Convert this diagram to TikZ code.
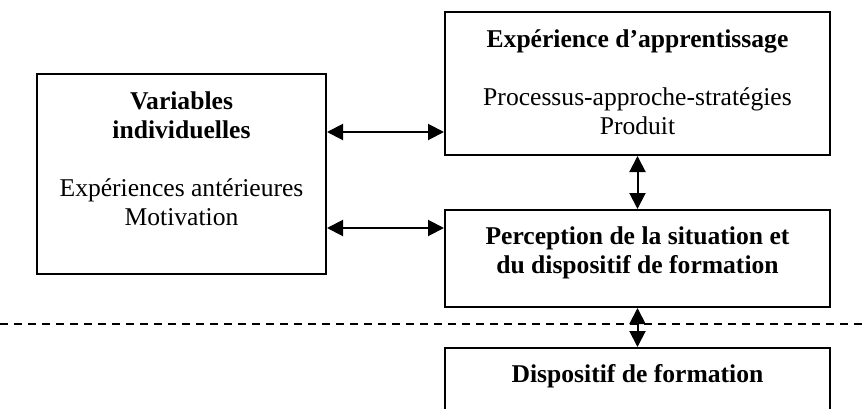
\documentclass[tikz,border=0pt]{standalone}
\usepackage{fontspec}
\setmainfont{Liberation Serif}
\usetikzlibrary{arrows.meta, positioning, calc}

\tikzset{
  box/.style={draw, line width=1pt, inner sep=0pt, minimum width=192.5pt},
  txt/.style={align=center, inner sep=0pt, anchor=base,
    font=\fontsize{12.8}{14.5}\selectfont},
  link/.style={line width=1pt, {Triangle[length=8pt,width=8pt]}-{Triangle[length=8pt,width=8pt]}},
  sep line/.style={line width=1pt, dash pattern=on 4pt off 3pt}
}

\begin{document}
\begin{tikzpicture}[x=0.5pt, y=-0.5pt]
\useasboundingbox (0,0) rectangle (864,408);
\clip (0,0) rectangle (864,408);

% boxes
\node[box, minimum width=144.5pt, minimum height=100pt] (vars) at (181.5,174) {};
\node[box, minimum height=71.5pt] (exp) at (637.5,83.5) {};
\node[box, minimum height=48.5pt] (perc) at (637.5,258.5) {};
\node[box, minimum height=50pt] (disp) at (637.5,398) {};

% texts (anchored on the baseline of their last line)
\node[txt] (varsT) at (181.5,225) {\textbf{Variables}\\\textbf{individuelles}\\[14.5pt]
  Expériences antérieures\\Motivation};
\node[txt] (expT) at (637.5,134) {\textbf{Expérience d’apprentissage}\\[14.5pt]
  Processus-approche-stratégies\\Produit};
\node[txt] (percT) at (637.5,273) {\textbf{Perception de la situation et}\\
  \textbf{du dispositif de formation}};
\node[txt] (dispT) at (637.5,382) {\textbf{Dispositif de formation}};

% separation
\draw[sep line] (0,324) -- (864,324);

% links
\draw[link] (vars.east |- 0,132) -- (exp.west |- 0,132);
\draw[link] (vars.east |- 0,228) -- (perc.west |- 0,228);
\draw[link] (exp.south) -- (perc.north);
\draw[link] (perc.south) -- (disp.north);

\end{tikzpicture}
\end{document}
